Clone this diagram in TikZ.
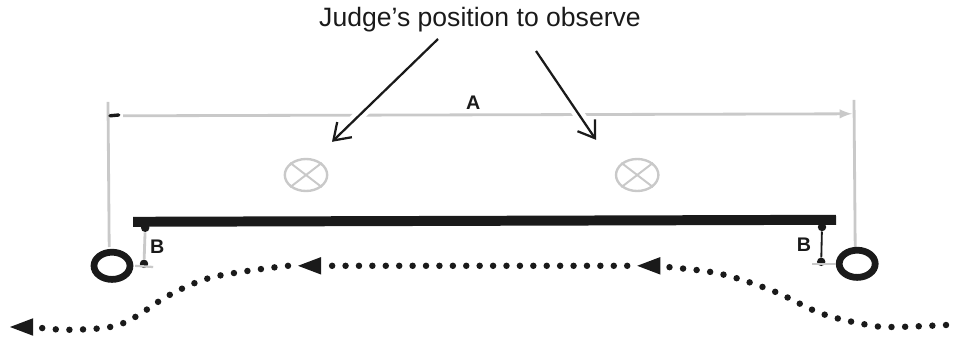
\documentclass[tikz,border=0pt]{standalone}
\usepackage{fontspec}
\setmainfont{Liberation Sans}
\usetikzlibrary{shapes.geometric,arrows.meta}
\definecolor{inkblack}{HTML}{1A1A1A}
\definecolor{softgray}{HTML}{C9C9C9}
\tikzset{
  guide/.style={softgray,line width=2pt},
  tag/.style={inner sep=0pt,text=inkblack,font=\fontsize{14}{14}\selectfont\bfseries},
  judge/.style={ellipse,draw=softgray,line width=1.7pt,minimum width=1.06cm,minimum height=0.8cm,inner sep=0pt},
  ring/.style={ellipse,draw=inkblack,line width=4.8pt,minimum width=0.9cm,minimum height=0.68cm,inner sep=0pt},
  pointer/.style={inkblack,line width=1.6pt,-{Straight Barb[length=11pt,width=15pt,line width=1.6pt]},preaction={draw=white,line width=8pt,-}},
  route/.style={inkblack,line width=4.6pt,line cap=round,dash pattern=on 0pt off 9.7pt},
  spot/.style={circle,fill=inkblack,inner sep=0pt,minimum size=6pt}
}
\begin{document}
\begin{tikzpicture}
    \useasboundingbox (0,0) rectangle (23.9,8.475);

    \coordinate (DL) at (2.75,5.58);
    \coordinate (DR) at (21.3,5.63);

    \draw[guide] (2.7,5.93) coordinate (EL) -- (2.73,2.3) coordinate (EL2);
    \draw[guide] (21.35,5.98) coordinate (ER) -- (21.38,2.28) coordinate (ER2);
    \draw[guide,-latex] (3.08,5.58) -- (DR);
    \draw[inkblack,line width=2.4pt,line cap=round] (DL) -- ++(0.22,0.02);
    \node[tag] (LA) at (11.83,5.9) {A};

    \node[judge] (J1) at (7.65,4.1) {};
    \node[judge] (J2) at (15.93,4.1) {};
    \foreach \j in {J1,J2} {
      \draw[softgray,line width=1.4pt] (\j.north west) -- (\j.south east);
      \draw[softgray,line width=1.4pt] (\j.north east) -- (\j.south west);
    }

    \node[inner sep=0pt,text=inkblack,font=\fontsize{18.9}{20}\selectfont] (T) at (12,7.98) {Judge’s position to observe};
    \coordinate (P1) at (10.95,7.5);
    \coordinate (Q1) at (8.3,4.93);
    \coordinate (P2) at (13.4,7.2);
    \coordinate (Q2) at (14.9,4.98);
    \draw[pointer] (P1) -- (Q1);
    \draw[pointer] (P2) -- (Q2);

    \draw[inkblack,line width=7.1pt] (3.33,2.93) coordinate (BL) -- (20.9,2.98) coordinate (BR);

    \node[ring] (R1) at (2.8,1.83) {};
    \node[ring] (R2) at (21.43,1.88) {};

    \node[spot] (S1) at (3.63,2.78) {};
    \node[spot] (S2) at (3.6,1.88) {};
    \node[spot] (S3) at (20.55,2.8) {};
    \node[spot] (S4) at (20.53,1.93) {};

    \draw[guide] (S1) -- (S2);
    \draw[inkblack,line width=1.3pt] (S3) -- (S4);
    \draw[softgray,line width=1.6pt] (3.38,1.83) -- (3.83,1.8);
    \draw[softgray,line width=1.6pt] (20.3,1.88) -- (20.9,1.88);
    \node[tag] (B1) at (3.93,2.3) {B};
    \node[tag] (B2) at (20.1,2.35) {B};

    \draw[route]
        plot[smooth,tension=0.6] coordinates {
          (23.65,0.35)
          (22.25,0.3)
          (21.55,0.38)
          (20.5,0.65)
          (19.33,1.2)
          (18,1.63)
          (16.7,1.8)
          (16.55,1.82)
        };
    \draw[route,dash pattern=on 0pt off 9.54pt] (15.68,1.83) -- (8.28,1.83);
    \draw[route]
        plot[smooth,tension=0.6] coordinates {
          (7.2,1.83)
          (6.18,1.7)
          (5.15,1.5)
          (4.2,1.08)
          (3.38,0.55)
          (2.75,0.3)
          (1.7,0.23)
          (1,0.28)
        };

    \coordinate (H1) at (15.93,1.83);
    \coordinate (H2) at (7.45,1.83);
    \coordinate (H3) at (0.25,0.3);
    \foreach \h in {H1,H2,H3}
      \fill[inkblack] (\h) -- ++(0.58,0.22) -- ++(0,-0.44) -- cycle;
\end{tikzpicture}
\end{document}
